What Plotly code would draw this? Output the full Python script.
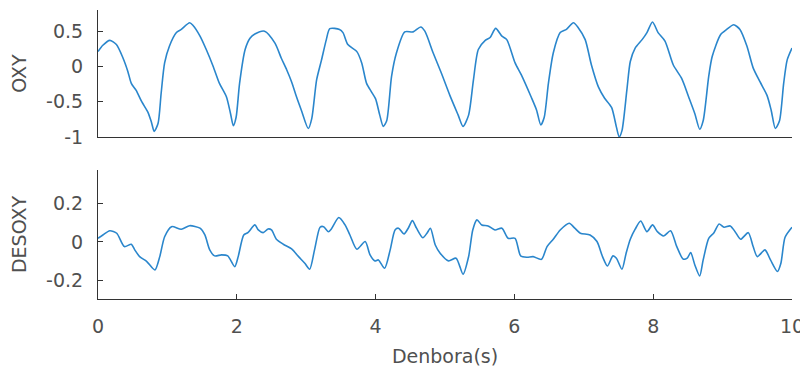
import plotly.graph_objects as go
from plotly.subplots import make_subplots

# ---- data ----
t_oxy = [0, 0.07, 0.17, 0.265, 0.36, 0.43, 0.48, 0.55, 0.63, 0.72, 0.77, 0.81, 0.865, 0.91, 0.96,
         1.03, 1.13, 1.20, 1.32, 1.37, 1.47, 1.56, 1.66, 1.75, 1.85, 1.91, 1.95, 1.99, 2.04, 2.12,
         2.19, 2.26, 2.40, 2.55, 2.64, 2.72, 2.79, 2.86, 2.93, 3.03, 3.08, 3.15, 3.22, 3.29, 3.34,
         3.48, 3.53, 3.60, 3.73, 3.80, 3.87, 3.94, 4.00, 4.06, 4.11, 4.16, 4.23, 4.30, 4.42, 4.54,
         4.65, 4.71, 4.83, 4.95, 5.07, 5.19, 5.26, 5.34, 5.41, 5.48, 5.58, 5.65, 5.73, 5.82, 5.89,
         6.01, 6.10, 6.24, 6.32, 6.38, 6.43, 6.49, 6.56, 6.66, 6.75, 6.85, 6.92, 7.02, 7.11, 7.21,
         7.30, 7.40, 7.47, 7.51, 7.55, 7.62, 7.67, 7.74, 7.84, 7.91, 7.99, 8.07, 8.17, 8.29, 8.41,
         8.51, 8.60, 8.67, 8.72, 8.80, 8.85, 8.97, 9.06, 9.16, 9.25, 9.35, 9.44, 9.54, 9.64, 9.70,
         9.76, 9.82, 9.88, 9.93, 10.0]
oxy = [0.21, 0.30, 0.37, 0.31, 0.12, -0.07, -0.24, -0.34, -0.50, -0.65, -0.79, -0.92, -0.81, -0.38, 0.05,
       0.29, 0.48, 0.525, 0.62, 0.58, 0.43, 0.24, 0.0, -0.24, -0.43, -0.67, -0.84, -0.72, -0.24, 0.24,
       0.40, 0.46, 0.50, 0.33, 0.12, -0.05, -0.22, -0.43, -0.62, -0.88, -0.74, -0.19, 0.09, 0.38, 0.535,
       0.525, 0.48, 0.31, 0.21, 0.05, -0.24, -0.36, -0.46, -0.69, -0.85, -0.77, -0.14, 0.19, 0.49, 0.49,
       0.56, 0.50, 0.19, -0.10, -0.41, -0.69, -0.85, -0.69, -0.19, 0.24, 0.37, 0.41, 0.54, 0.43, 0.38,
       0.05, -0.12, -0.43, -0.62, -0.83, -0.72, -0.24, 0.19, 0.48, 0.525, 0.62, 0.55, 0.38, 0.02, -0.29,
       -0.45, -0.58, -0.86, -1.0, -0.91, -0.34, 0.07, 0.26, 0.38, 0.48, 0.63, 0.48, 0.36, 0.02, -0.17,
       -0.43, -0.67, -0.89, -0.77, -0.14, 0.14, 0.45, 0.525, 0.59, 0.525, 0.29, -0.02, -0.22, -0.41, -0.62,
       -0.88, -0.77, -0.24, 0.09, 0.26]

t_desoxy = [0, 0.07, 0.17, 0.27, 0.38, 0.48, 0.53, 0.60, 0.70, 0.82, 0.89, 0.96, 1.06, 1.20, 1.32,
            1.47, 1.54, 1.61, 1.68, 1.78, 1.87, 1.97, 2.02, 2.10, 2.16, 2.26, 2.31, 2.38, 2.45, 2.50,
            2.57, 2.67, 2.79, 2.89, 2.98, 3.05, 3.12, 3.20, 3.25, 3.32, 3.36, 3.47, 3.56, 3.63, 3.73,
            3.85, 3.92, 3.99, 4.04, 4.13, 4.21, 4.28, 4.33, 4.41, 4.47, 4.53, 4.59, 4.68, 4.74, 4.79,
            4.86, 4.93, 5.05, 5.16, 5.26, 5.34, 5.40, 5.46, 5.53, 5.62, 5.72, 5.82, 5.91, 6.01, 6.09,
            6.18, 6.27, 6.39, 6.47, 6.56, 6.66, 6.79, 6.87, 6.95, 7.09, 7.19, 7.27, 7.34, 7.42, 7.47,
            7.55, 7.61, 7.67, 7.74, 7.82, 7.91, 7.99, 8.06, 8.15, 8.25, 8.34, 8.43, 8.49, 8.54, 8.60,
            8.67, 8.72, 8.80, 8.87, 8.95, 9.02, 9.11, 9.18, 9.26, 9.37, 9.44, 9.50, 9.61, 9.69, 9.79,
            9.84, 9.90, 10.0]
desoxy = [0.019, 0.036, 0.058, 0.045, -0.024, -0.012, -0.041, -0.076, -0.10, -0.145, -0.076, 0.027, 0.079, 0.066, 0.084,
          0.071, 0.036, -0.041, -0.072, -0.067, -0.072, -0.128, -0.076, 0.036, 0.048, 0.088, 0.062, 0.048, 0.067, 0.062,
          0.014, -0.012, -0.036, -0.076, -0.11, -0.141, -0.041, 0.076, 0.079, 0.053, 0.066, 0.126, 0.088, 0.036, -0.038,
          0.002, -0.067, -0.098, -0.093, -0.136, -0.041, 0.062, 0.071, 0.041, 0.071, 0.11, 0.071, 0.022, 0.045, 0.071,
          -0.016, -0.058, -0.098, -0.084, -0.167, -0.076, 0.062, 0.114, 0.088, 0.083, 0.062, 0.071, 0.019, 0.019, -0.072,
          -0.079, -0.076, -0.09, -0.024, 0.014, 0.062, 0.097, 0.071, 0.045, 0.036, 0.002, -0.076, -0.124, -0.072, -0.084,
          -0.141, -0.058, 0.014, 0.066, 0.108, 0.053, 0.088, 0.053, 0.031, 0.058, -0.024, -0.088, -0.084, -0.055, -0.119,
          -0.176, -0.093, 0.019, 0.045, 0.093, 0.076, 0.083, 0.053, 0.014, 0.048, -0.024, -0.076, -0.041, -0.093, -0.153,
          -0.11, 0.024, 0.076]

x_ticks = [0, 2, 4, 6, 8, 10]
oxy_ticks = [-1, -0.5, 0, 0.5]
oxy_tick_labels = ["-1", "-0.5", "0", "0.5"]
desoxy_ticks = [-0.2, 0, 0.2]
desoxy_tick_labels = ["-0.2", "0", "0.2"]

LINE = "#2a86cc"
AX = "#333333"
TXT = "#505050"
FONT = "DejaVu Sans"

fig = make_subplots(rows=2, cols=1, shared_xaxes=False, vertical_spacing=0.0)

fig.add_trace(go.Scatter(x=t_oxy, y=oxy, mode="lines",
                         line=dict(color=LINE, width=1.6, shape="spline", smoothing=0.7),
                         showlegend=False), row=1, col=1)
fig.add_trace(go.Scatter(x=t_desoxy, y=desoxy, mode="lines",
                         line=dict(color=LINE, width=1.6, shape="spline", smoothing=0.7),
                         showlegend=False), row=2, col=1)

common_axis = dict(showline=True, linecolor=AX, linewidth=1, showgrid=False, zeroline=False,
                   mirror=False, tickcolor=AX, ticklen=5, tickwidth=1, automargin=False,
                   tickfont=dict(family=FONT, size=19, color=TXT))

# the page adds an 8px body margin, so the figure is 8px smaller and margins shifted
fig.update_layout(
    width=800, height=359,
    margin=dict(l=90, r=16, t=2, b=68, autoexpand=False),
    paper_bgcolor="white", plot_bgcolor="white",
    font=dict(family=FONT, color=TXT),
    xaxis=dict(common_axis, domain=[0, 1], range=[0, 10], ticks="", showticklabels=False),
    yaxis=dict(common_axis, domain=[0.5606, 1], range=[-1, 0.8], tickvals=oxy_ticks,
               ticktext=oxy_tick_labels, ticks="inside", ticklabelstandoff=10,
               title=dict(text="OXY", font=dict(family=FONT, size=19, color=TXT), standoff=14)),
    xaxis2=dict(common_axis, domain=[0, 1], range=[0, 10], tickvals=x_ticks, ticks="inside",
                ticklabelstandoff=10,
                title=dict(text="Denbora(s)", font=dict(family=FONT, size=19, color=TXT), standoff=14)),
    yaxis2=dict(common_axis, domain=[0, 0.4464], range=[-0.295, 0.372], tickvals=desoxy_ticks,
                ticktext=desoxy_tick_labels, ticks="inside", ticklabelstandoff=10,
                title=dict(text="DESOXY", font=dict(family=FONT, size=19, color=TXT), standoff=14)),
)

fig.write_html("out.html")
